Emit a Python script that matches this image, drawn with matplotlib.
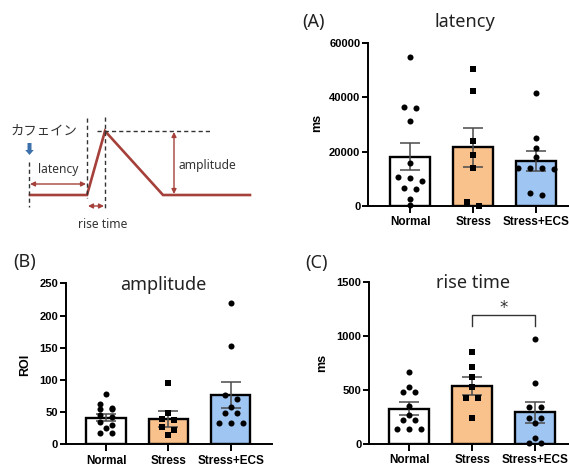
import numpy as np
import matplotlib
matplotlib.use("Agg")
import matplotlib.pyplot as plt
from matplotlib.patches import FancyArrow

groups = ["Normal", "Stress", "Stress+ECS"]
bar_colors = ["white", "#f9c18b", "#9fc5f2"]
markers = ["o", "s", "o"]

# (A) latency [ms]
lat_normal = [54800, 36500, 36000, 31200, 16000, 10500, 10400, 9300, 6500, 6200, 2600, 200]
lat_stress = [50500, 42200, 24000, 18800, 13900, 1600, 0]
lat_ecs = [41600, 25000, 21500, 18200, 14100, 13900, 13900, 13800, 4700, 4000]
lat_mean = [18200, 21600, 16700]
lat_sem = [5100, 7200, 3700]
lat_ticks = [0, 20000, 40000, 60000]

# (B) amplitude [ROI]
amp_normal = [78, 62, 57, 55, 55, 45, 42, 35, 30, 25, 18, 18]
amp_stress = [95, 49, 40, 38, 27, 22, 15]
amp_ecs = [220, 153, 76, 70, 58, 49, 49, 33, 33, 33]
amp_mean = [41.5, 39.5, 76.5]
amp_sem = [6, 12, 20]
amp_ticks = [0, 50, 100, 150, 200, 250]

# (C) rise time [ms]
rise_normal = [671, 530, 482, 478, 355, 270, 225, 222, 142, 140, 138]
rise_stress = [856, 717, 624, 532, 430, 430, 238]
rise_ecs = [971, 563, 346, 346, 238, 238, 192, 53, 7, 7]
rise_mean = [328, 541, 294]
rise_sem = [57, 83, 95]
rise_ticks = [0, 500, 1000, 1500]
rise_sig = (1, 2, 1200, "*")

# schematic of the caffeine response (pixel coordinates of the sketch)
trace_x = [30, 87, 105, 163, 250]
trace_y = [195, 195, 131, 195, 195]

W, H = 569, 466
fig = plt.figure(figsize=(W / 100, H / 100), dpi=100)


def px(x, y):
    return x / W, 1 - y / H


def swarm_offsets(ax, vals, gap_px=4.5, step_px=12):
    # spread points sitting at nearly the same height side by side
    t = ax.transData
    ypx = t.transform(np.column_stack([np.zeros(len(vals)), vals]))[:, 1]
    xunit = t.transform([(1, 0)])[0, 0] - t.transform([(0, 0)])[0, 0]
    offs = np.zeros(len(vals))
    rows, row = [], []
    for idx in np.argsort(-ypx, kind="stable"):
        if row and ypx[row[0]] - ypx[idx] > gap_px:
            rows.append(row)
            row = []
        row.append(idx)
    rows.append(row)
    for r in rows:
        n = len(r)
        for k, idx in enumerate(r):
            offs[idx] = (k - (n - 1) / 2) * step_px / xunit
    return offs


def draw_panel(rect, xlim, points, means, sems, ticks):
    ax = fig.add_axes(rect)
    x = np.arange(len(groups))
    ax.bar(x, means, width=0.63, color=bar_colors, edgecolor="black",
           linewidth=1.7, zorder=1)
    ax.errorbar(x, means, yerr=sems, fmt="none", ecolor="#4a4a4a",
                elinewidth=1.1, capsize=7, capthick=1.1, zorder=2)
    ax.set_xlim(xlim)
    ax.set_ylim(ticks[0], ticks[-1])
    for i, vals in enumerate(points):
        offs = swarm_offsets(ax, vals)
        ax.scatter(i + offs, vals, marker=markers[i], s=19, color="black",
                   linewidths=0, zorder=3, clip_on=False)
    for side in ["top", "right"]:
        ax.spines[side].set_visible(False)
    for side in ["left", "bottom"]:
        ax.spines[side].set_linewidth(1.4)
    ax.set_yticks(ticks)
    ax.set_yticklabels([str(t) for t in ticks], fontsize=8, fontweight="bold",
                       family="Liberation Sans")
    ax.set_xticks(x)
    ax.set_xticklabels(groups, fontsize=8.5, fontweight="bold",
                       family="Liberation Sans")
    ax.tick_params(axis="y", length=4.5, width=1.4, pad=1)
    ax.tick_params(axis="x", length=5, width=1.4, pad=2.5)
    ax.patch.set_alpha(0)
    return ax


# sketch layer
axd = fig.add_axes([0, 0, 1, 1])
axd.set_xlim(0, W)
axd.set_ylim(H, 0)
axd.axis("off")
red = "#a5403a"
axd.plot(trace_x, trace_y, color=red, lw=1.9, solid_joinstyle="miter")
dash = dict(color="#333333", lw=1.0, ls=(0, (3, 2.2)))
axd.plot([29, 29], [162, 207], **dash)
axd.plot([87, 87], [118, 198], **dash)
axd.plot([105, 105], [117, 208], **dash)
axd.plot([97, 212], [131, 131], **dash)
arr = dict(arrowstyle="<|-|>", color=red, lw=1.0, mutation_scale=7,
           shrinkA=0, shrinkB=0)
axd.annotate("", xy=(30, 184), xytext=(86, 184), arrowprops=arr)
axd.annotate("", xy=(88, 206), xytext=(104, 206), arrowprops=arr)
axd.annotate("", xy=(174, 132), xytext=(174, 194), arrowprops=arr)
axd.add_patch(FancyArrow(29.5, 143, 0, 12, width=4, head_width=8.5,
                         head_length=5, length_includes_head=True,
                         color="#3c70aa", lw=0))
txt = dict(color="#333333", fontsize=8.7, family="Noto Sans", va="center")
axd.text(11, 130, "カフェイン", color="#333333", fontsize=9.6,
         family=["Noto Sans CJK JP", "DejaVu Sans"], va="center", ha="left")
axd.text(58, 170, "latency", ha="center", **txt)
axd.text(179, 165, "amplitude", ha="left", **txt)
axd.text(103, 224, "rise time", ha="center", **txt)

axA = draw_panel([368 / W, 1 - 206 / H, (W - 368) / W, (206 - 43) / H],
                 (-0.667, 2.52), [lat_normal, lat_stress, lat_ecs],
                 lat_mean, lat_sem, lat_ticks)
axB = draw_panel([65.7 / W, 1 - 444.3 / H, (271.7 - 65.7) / W, (444.3 - 283.3) / H],
                 (-0.647, 2.66), [amp_normal, amp_stress, amp_ecs],
                 amp_mean, amp_sem, amp_ticks)
axC = draw_panel([369 / W, 1 - 444 / H, (W - 369) / W, (444 - 282.3) / H],
                 (-0.64, 2.535), [rise_normal, rise_stress, rise_ecs],
                 rise_mean, rise_sem, rise_ticks)

# significance bracket in (C)
i0, i1, ysig, mark = rise_sig
axC.plot([i0, i0, i1, i1], [ysig - 110, ysig, ysig, ysig - 110],
         color="#333333", lw=1.0, clip_on=False)
axC.text((i0 + i1) / 2, ysig - 25, mark, ha="center", va="bottom",
         fontsize=12, color="#333333")

title_kw = dict(fontsize=13, family="Noto Sans", color="#222222", va="center")
fig.text(*px(302, 22), "(A)", ha="left", **title_kw)
fig.text(*px(465, 22), "latency", ha="center", **title_kw)
fig.text(*px(13, 262), "(B)", ha="left", **title_kw)
fig.text(*px(163, 285), "amplitude", ha="center", **title_kw)
fig.text(*px(305, 263), "(C)", ha="left", **title_kw)
fig.text(*px(473, 283), "rise time", ha="center", **title_kw)

lab_kw = dict(fontsize=9, fontweight="bold", family="Liberation Sans",
              rotation=90, ha="center", va="center")
fig.text(*px(317, 123), "ms", **lab_kw)
fig.text(*px(25, 365), "ROI", **lab_kw)
fig.text(*px(322, 363), "ms", **lab_kw)

fig.savefig("out.png", dpi=100)
